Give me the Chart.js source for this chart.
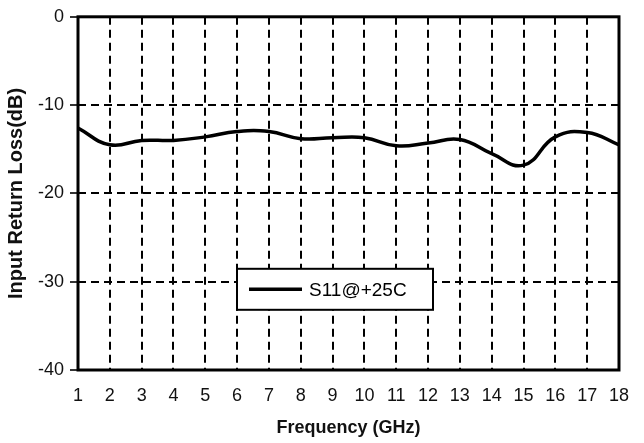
<!DOCTYPE html>
<html>
<head>
<meta charset="utf-8">
<script src="https://cdn.jsdelivr.net/npm/chart.js@4/dist/chart.umd.min.js"></script>
<style>
  html, body { margin: 0; padding: 0; background: #fff; }
  #wrap { width: 644px; height: 443px; }
</style>
</head>
<body>
<div id="wrap"><canvas id="s11Chart" width="644" height="443"></canvas></div>
<script>
// values
const freqGHz = [1, 2, 3, 4, 5, 6, 7, 8, 9, 10, 11, 12, 13, 14, 15, 16, 17, 18];
const s11dB = [-12.6, -14.5, -14.0, -14.0, -13.6, -13.0, -13.0, -13.8, -13.7, -13.7, -14.6, -14.3, -13.9, -15.5, -16.8, -13.6, -13.1, -14.5];
const seriesLabel = 'S11@+25C';
const xTicks = freqGHz;
const yTicks = [0, -10, -20, -30, -40];

const FONT = 'Arial, "Liberation Sans", sans-serif';

// thick frame + legend box inside the plot
const framePlugin = {
    id: 'frame',
    afterDraw(chart) {
        const c = chart.ctx;
        const a = chart.chartArea;
        c.save();
        c.strokeStyle = '#000';
        c.lineWidth = 3;
        c.strokeRect(a.left, a.top, a.right - a.left, a.bottom - a.top);

        // legend
        const lx = a.left + 159, ly = a.top + 252, lw = 196, lh = 41;
        c.fillStyle = '#fff';
        c.fillRect(lx, ly, lw, lh);
        c.lineWidth = 2;
        c.strokeRect(lx, ly, lw, lh);
        c.lineWidth = 3.5;
        c.beginPath();
        c.moveTo(lx + 12, ly + lh / 2);
        c.lineTo(lx + 65, ly + lh / 2);
        c.stroke();
        c.fillStyle = '#000';
        c.font = '19px ' + FONT;
        c.textBaseline = 'middle';
        c.fillText(chart.data.datasets[0].label, lx + 72, ly + lh / 2 + 1);
        c.restore();
    }
};

const ctx = document.getElementById('s11Chart').getContext('2d');
const config = {
    type: 'line',
    data: {
        datasets: [{
            label: seriesLabel,
            data: freqGHz.map((f, i) => ({ x: f, y: s11dB[i] })),
            borderColor: '#000',
            borderWidth: 3.5,
            pointRadius: 0,
            tension: 0.45,
            fill: false
        }]
    },
    options: {
        responsive: false,
        animation: false,
        layout: { padding: { left: 0, right: 16, top: 16, bottom: 0 } },
        plugins: {
            legend: { display: false },
            tooltip: { enabled: false }
        },
        scales: {
            x: {
                type: 'linear',
                min: 1,
                max: 18,
                afterBuildTicks: (s) => { s.ticks = xTicks.map(v => ({ value: v })); },
                afterFit: (s) => { s.height = 73; },
                grid: {
                    color: '#000',
                    lineWidth: 2,
                    drawTicks: false
                },
                border: { display: false, dash: [8, 5] },
                ticks: {
                    color: '#111',
                    font: { size: 18, family: FONT },
                    padding: 15,
                    maxRotation: 0,
                    autoSkip: false
                },
                title: {
                    display: true,
                    text: 'Frequency (GHz)',
                    color: '#111',
                    font: { size: 18, weight: 'bold', family: FONT },
                    padding: { top: 4 }
                }
            },
            y: {
                min: -40,
                max: 0,
                afterBuildTicks: (s) => { s.ticks = yTicks.map(v => ({ value: v })); },
                afterFit: (s) => { s.width = 78; },
                grid: {
                    color: '#000',
                    lineWidth: 2,
                    tickBorderDash: [],
                    tickLength: 8,
                    tickWidth: 1.6
                },
                border: { display: false, dash: [8, 5] },
                ticks: {
                    color: '#111',
                    font: { size: 18, family: FONT },
                    padding: 6
                },
                title: {
                    display: true,
                    text: 'Input Return Loss(dB)',
                    color: '#111',
                    font: { size: 20, weight: 'bold', family: FONT },
                    padding: { top: 4, bottom: 0 }
                }
            }
        }
    },
    plugins: [framePlugin]
};

const s11Chart = new Chart(ctx, config);
</script>
</body>
</html>
